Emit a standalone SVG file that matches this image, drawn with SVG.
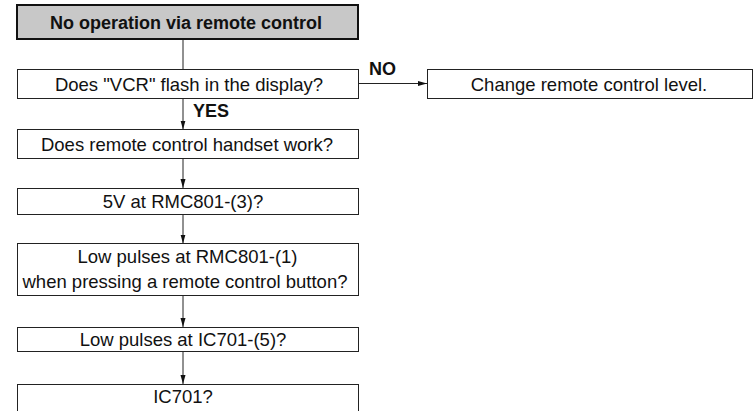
<svg xmlns="http://www.w3.org/2000/svg" width="756" height="411" viewBox="0 0 756 411">
<style>
.box{fill:#fff;stroke:#222;stroke-width:1}
.start{fill:#c8c8c8;stroke:#111;stroke-width:2}
.t{font-family:"Liberation Sans",Arial,sans-serif;font-size:18.5px;fill:#111;text-anchor:middle}
.b{font-family:"Liberation Sans",Arial,sans-serif;font-size:18px;font-weight:bold;fill:#111}
.c{stroke:#222;stroke-width:1;fill:none}
</style>
<defs>
<marker id="ah" markerWidth="9" markerHeight="6" refX="9" refY="3" orient="auto" markerUnits="userSpaceOnUse">
<path d="M0,0.5 L9,3 L0,5.5 Z" fill="#111"/>
</marker>
</defs>
<g id="connectors">
<line class="c" x1="183" y1="39.5" x2="183" y2="69"/>
<line class="c" x1="358" y1="83.5" x2="427" y2="83.5" marker-end="url(#ah)"/>
<line class="c" x1="183" y1="99" x2="183" y2="129.5" marker-end="url(#ah)"/>
<line class="c" x1="183" y1="159" x2="183" y2="188" marker-end="url(#ah)"/>
<line class="c" x1="183" y1="215" x2="183" y2="243.5" marker-end="url(#ah)"/>
<line class="c" x1="183" y1="296" x2="183" y2="327" marker-end="url(#ah)"/>
<line class="c" x1="183" y1="352" x2="183" y2="384" marker-end="url(#ah)"/>
<text class="b" x="369" y="75">NO</text>
<text class="b" x="193" y="116.5">YES</text>
</g>
<g id="n0">
<rect class="start" x="17" y="5" width="341" height="34"/>
<text class="b" x="186" y="29" text-anchor="middle">No operation via remote control</text>
</g>
<g id="n1">
<rect class="box" x="17.5" y="69.5" width="341" height="29"/>
<text class="t" x="189" y="90.5">Does "VCR" flash in the display?</text>
</g>
<g id="n2">
<rect class="box" x="427.5" y="69.5" width="325" height="29"/>
<text class="t" x="589" y="90.5">Change remote control level.</text>
</g>
<g id="n3">
<rect class="box" x="17.5" y="129.5" width="341" height="29"/>
<text class="t" x="187" y="150.5">Does remote control handset work?</text>
</g>
<g id="n4">
<rect class="box" x="17.5" y="188.5" width="341" height="26"/>
<text class="t" x="183" y="207.5">5V at RMC801-(3)?</text>
</g>
<g id="n5">
<rect class="box" x="17.5" y="243.5" width="341" height="52"/>
<text class="t" x="187.5" y="263">Low pulses at RMC801-(1)</text>
<text class="t" x="185" y="288">when pressing a remote control button?</text>
</g>
<g id="n6">
<rect class="box" x="17.5" y="327.5" width="341" height="24"/>
<text class="t" x="183" y="345.5">Low pulses at IC701-(5)?</text>
</g>
<g id="n7">
<rect class="box" x="17.5" y="384.5" width="341" height="30"/>
<text class="t" x="183" y="403">IC701?</text>
</g>
</svg>
